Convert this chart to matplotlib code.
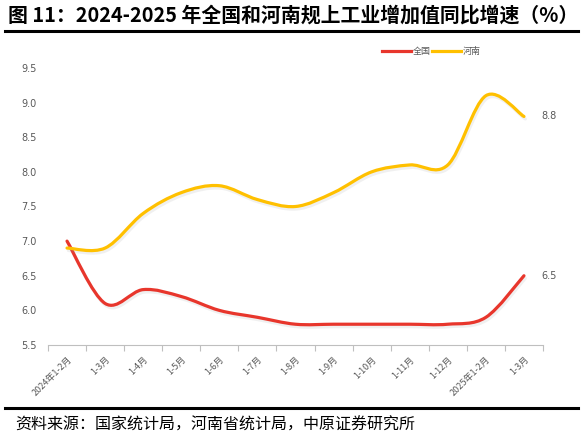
import numpy as np
import matplotlib
matplotlib.use('Agg')
from matplotlib import pyplot as plt
from matplotlib.path import Path
from matplotlib.patches import PathPatch
import matplotlib.patheffects as pe

plt.rcParams['font.family'] = ['Noto Sans CJK SC', 'DejaVu Sans']

categories = ['2024年1-2月', '1-3月', '1-4月', '1-5月', '1-6月', '1-7月', '1-8月',
              '1-9月', '1-10月', '1-11月', '1-12月', '2025年1-2月', '1-3月']
quanguo = [7.0, 6.1, 6.3, 6.2, 6.0, 5.9, 5.8, 5.8, 5.8, 5.8, 5.8, 5.9, 6.5]
henan = [6.9, 6.9, 7.4, 7.7, 7.8, 7.6, 7.5, 7.7, 8.0, 8.1, 8.1, 9.1, 8.8]
yticks = [5.5, 6.0, 6.5, 7.0, 7.5, 8.0, 8.5, 9.0, 9.5]

RED = '#E8362C'
GOLD = '#FFC000'
GREY = '#595959'


def curva_suave(xs, ys):
    # curva tipo "línea suavizada" de Excel con béziers cúbicas
    pts = np.column_stack([xs, ys]).astype(float)
    n = len(pts)
    verts = [pts[0]]
    codes = [Path.MOVETO]
    for i in range(n - 1):
        p0 = pts[i - 1] if i > 0 else pts[i]
        p1 = pts[i]
        p2 = pts[i + 1]
        p3 = pts[i + 2] if i + 2 < n else pts[i + 1]
        c1 = p1 + (p2 - p0) / 6
        c2 = p2 - (p3 - p1) / 6
        verts += [c1, c2, p2]
        codes += [Path.CURVE4] * 3
    return Path(verts, codes)


fig = plt.figure(figsize=(5.81, 4.40), dpi=100)
ax = fig.add_axes([0.0826, 0.2159, 0.852, 0.6296])

x = np.arange(len(categories))
sombra = [pe.SimpleLineShadow(offset=(1.0, -1.8), shadow_color='#999999', alpha=0.14),
          pe.Normal()]
for serie, color, nombre in [(quanguo, RED, '全国'), (henan, GOLD, '河南')]:
    patch = PathPatch(curva_suave(x, serie), facecolor='none', edgecolor=color,
                      lw=2.3, capstyle='round', joinstyle='round')
    patch.set_path_effects(sombra)
    ax.add_patch(patch)
    ax.plot([], [], color=color, lw=2.3, label=nombre)

ax.text(x[-1] + 0.45, henan[-1], f'{henan[-1]:.1f}', fontsize=7, color=GREY,
        va='center', ha='left', family='DejaVu Sans')
ax.text(x[-1] + 0.45, quanguo[-1], f'{quanguo[-1]:.1f}', fontsize=7, color=GREY,
        va='center', ha='left', family='DejaVu Sans')

ax.set_xlim(-0.5, len(categories) - 0.5)
ax.set_ylim(5.5, 9.5)
ax.set_yticks(yticks)
ax.set_yticklabels([f'{v:.1f}' for v in yticks], fontsize=7, color=GREY, family='DejaVu Sans')
ax.tick_params(axis='y', length=0, pad=8)

ax.set_xticks(x)
ax.set_xticklabels(categories, rotation=45, ha='right', rotation_mode='anchor',
                   fontsize=6.5, color=GREY)
ax.set_xticks(np.arange(-0.5, len(categories)), minor=True)
ax.tick_params(axis='x', which='major', length=0, pad=7)
ax.tick_params(axis='x', which='minor', length=4, color='#BFBFBF', width=0.8)

for lado in ['top', 'right', 'left']:
    ax.spines[lado].set_visible(False)
ax.spines['bottom'].set_color('#BFBFBF')
ax.spines['bottom'].set_linewidth(0.8)

ax.legend(loc='center right', bbox_to_anchor=(0.875, 1.058), ncol=2, frameon=False,
          fontsize=6.5, handlelength=3.2, handletextpad=0.2, columnspacing=0.2,
          labelcolor=GREY, borderpad=0, borderaxespad=0)

fig.text(0.014, 0.966, '图 11：2024-2025 年全国和河南规上工业增加值同比增速（%）',
         fontsize=14.3, fontweight='bold', va='center', ha='left', color='black')
fig.add_artist(plt.Line2D([0.008, 0.995], [0.929, 0.929], color='black', lw=2.2))
fig.add_artist(plt.Line2D([0.008, 0.995], [0.073, 0.073], color='black', lw=2.2))
fig.text(0.026, 0.034, '资料来源：国家统计局，河南省统计局，中原证券研究所',
         fontsize=11.5, va='center', ha='left', color='black')

fig.savefig('out.png', dpi=100)
